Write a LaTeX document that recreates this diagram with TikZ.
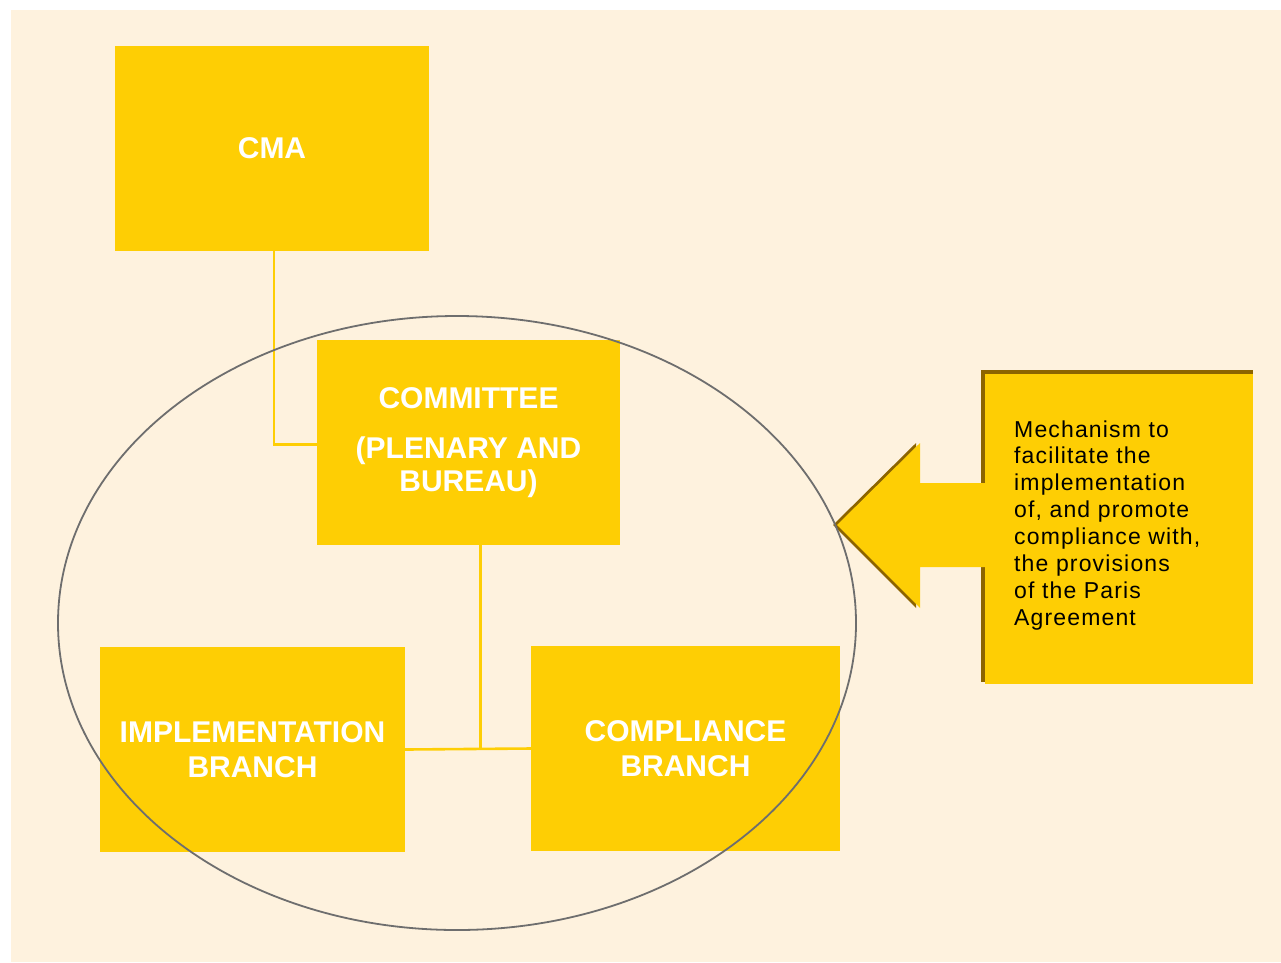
\documentclass[tikz,border=0pt]{standalone}
\usepackage{fontspec}
\setmainfont{Liberation Sans}
\newfontfamily\notefont[LetterSpace=5]{Liberation Sans}
\usetikzlibrary{calc,backgrounds}
\definecolor{cream}{HTML}{FEF2DE}
\definecolor{gold}{HTML}{FECE04}
\definecolor{darkgold}{HTML}{8C6400}
\definecolor{ring}{HTML}{6E6E6E}
\tikzset{
  ybox/.style={fill=gold, draw=none, rectangle, inner sep=0pt, align=center,
    text=white, font=\bfseries\fontsize{30}{35}\selectfont, minimum height=205pt},
  link/.style={draw=gold, line width=2.6pt},
}
\begin{document}
\begin{tikzpicture}[x=1pt,y=-1pt]
\useasboundingbox (0,0) rectangle (1281,962);

% boxes
\node[ybox, minimum width=314pt] (cma) at (272,148) {CMA};
\node[ybox, minimum width=303pt, font=\bfseries\fontsize{30}{33}\selectfont] (com) at (468.5,442.5) {COMMITTEE\\[17pt](PLENARY AND\\BUREAU)};
\node[ybox, minimum width=305pt] (impl) at (252.5,749.5) {IMPLEMENTATION\\BRANCH};
\node[ybox, minimum width=309pt] (compl) at (685.5,748.5) {COMPLIANCE\\BRANCH};

% connectors and background
\begin{scope}[on background layer]
  \fill[white] (0,0) rectangle (1281,962);
  \fill[cream] (11,10) rectangle (1281,962);
  \coordinate (j) at ($(impl.east)!0.6!(compl.west)$);
  \draw[link] ([xshift=2pt]cma.south) |- ([yshift=-2pt]com.west);
  \draw[link] (impl.east) -- (compl.west);
  \draw[link] (j |- com.south) -- (j);
\end{scope}

% note box with arrow
\fill[darkgold] (981,370) rectangle (1253,682);
\fill[darkgold] (833,525) -- (916,443) -- (916,608) -- cycle;
\fill[gold] (837,525) -- (920,443) -- (920,483) -- (990,483) -- (990,567) -- (920,567) -- (920,608) -- cycle;
\fill[gold] (985,374) rectangle (1253,684);
\node[anchor=base west, inner sep=0pt, align=left, text=black,
  font=\notefont\fontsize{23}{26.9}\selectfont] (note) at (1014,625.3)
  {Mechanism to\\facilitate the\\implementation\\of, and promote\\compliance with,\\the provisions\\of the Paris\\Agreement};

% ring
\draw[ring, line width=1.8pt] (457,623) ellipse [x radius=399, y radius=307];
\end{tikzpicture}
\end{document}
